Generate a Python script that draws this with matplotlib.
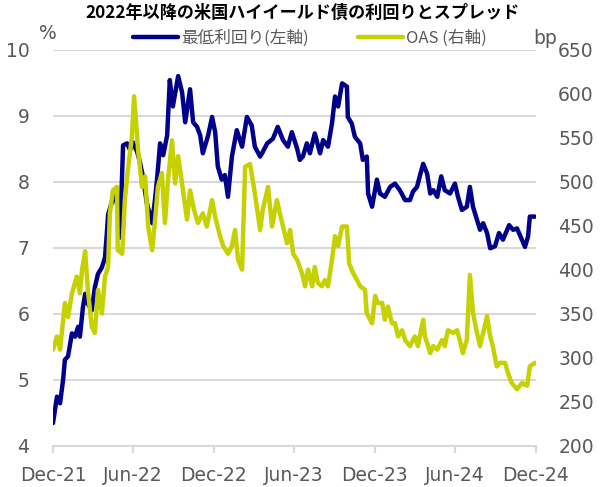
# US high-yield bonds since 2022: yield to worst (left axis) and OAS (right axis)

import pandas as pd
import matplotlib
matplotlib.use('Agg')
import matplotlib.pyplot as plt
import matplotlib.dates as mdates

jp_font = ['Noto Sans CJK JP', 'DejaVu Sans']
grey_text = '#595959'
grid_grey = '#D9D9D9'
blue = '#00008B'
yellow = '#C5D100'

# yield to worst, %
ytw_dates = ['2021-12-31', '2022-01-09', '2022-01-16', '2022-01-23', '2022-01-27', '2022-02-03',
             '2022-02-12', '2022-02-19', '2022-02-26', '2022-03-02', '2022-03-09', '2022-03-14',
             '2022-03-20', '2022-03-29', '2022-04-05', '2022-04-12', '2022-04-21', '2022-04-28',
             '2022-05-02', '2022-05-05', '2022-05-14', '2022-05-21', '2022-05-27', '2022-06-01',
             '2022-06-08', '2022-06-17', '2022-06-24', '2022-06-30', '2022-07-10', '2022-07-16',
             '2022-07-23', '2022-08-01', '2022-08-08', '2022-08-13', '2022-08-19', '2022-08-24',
             '2022-08-31', '2022-09-07', '2022-09-16', '2022-09-22', '2022-09-29', '2022-10-11',
             '2022-10-20', '2022-10-27', '2022-11-07', '2022-11-14', '2022-11-23', '2022-11-30',
             '2022-12-06', '2022-12-18', '2022-12-27', '2023-01-03', '2023-01-09', '2023-01-18',
             '2023-01-25', '2023-02-01', '2023-02-10', '2023-02-21', '2023-03-05', '2023-03-16',
             '2023-03-27', '2023-04-03', '2023-04-15', '2023-04-21', '2023-05-01', '2023-05-14',
             '2023-05-25', '2023-06-06', '2023-06-17', '2023-06-26', '2023-07-08', '2023-07-14',
             '2023-07-21', '2023-07-30', '2023-08-06', '2023-08-17', '2023-08-29', '2023-09-05',
             '2023-09-16', '2023-09-25', '2023-10-02', '2023-10-09', '2023-10-18', '2023-10-29',
             '2023-10-31', '2023-11-09', '2023-11-16', '2023-11-28', '2023-12-04', '2023-12-13',
             '2023-12-16', '2023-12-25', '2024-01-05', '2024-01-12', '2024-01-23', '2024-02-04',
             '2024-02-15', '2024-02-26', '2024-03-09', '2024-03-20', '2024-03-27', '2024-04-05',
             '2024-04-12', '2024-04-19', '2024-04-28', '2024-05-05', '2024-05-12', '2024-05-21',
             '2024-05-30', '2024-06-07', '2024-06-19', '2024-06-30', '2024-07-07', '2024-07-16',
             '2024-07-27', '2024-08-03', '2024-08-10', '2024-08-19', '2024-08-26', '2024-09-02',
             '2024-09-11', '2024-09-18', '2024-09-29', '2024-10-08', '2024-10-17', '2024-10-31',
             '2024-11-09', '2024-11-18', '2024-11-29', '2024-12-06', '2024-12-13', '2024-12-17',
             '2024-12-29']
ytw_values = [4.34, 4.74, 4.64, 5.0, 5.3, 5.35,
              5.7, 5.65, 5.8, 5.65, 6.1, 6.3,
              6.15, 6.05, 6.4, 6.6, 6.7, 6.85,
              7.2, 7.5, 7.7, 7.8, 7.6, 7.15,
              8.55, 8.58, 8.48, 8.6, 8.45, 8.3,
              8.08, 7.67, 7.5, 7.37, 7.7, 8.03,
              8.58, 8.4, 8.7, 9.54, 9.14, 9.6,
              9.35, 8.9, 9.4, 8.9, 8.83, 8.7,
              8.43, 8.7, 8.98, 8.75, 8.23, 8.03,
              8.1, 7.77, 8.38, 8.78, 8.53, 8.98,
              8.85, 8.53, 8.38, 8.45, 8.58, 8.65,
              8.83, 8.63, 8.53, 8.75, 8.5, 8.33,
              8.38, 8.58, 8.43, 8.73, 8.43, 8.63,
              8.53, 8.88, 9.29, 9.14, 9.49, 9.44,
              8.98, 8.88, 8.68, 8.58, 8.33, 8.38,
              7.82, 7.62, 8.03, 7.82, 7.77, 7.92,
              7.97, 7.87, 7.72, 7.72, 7.85, 7.92,
              8.1, 8.27, 8.12, 7.82, 7.87, 7.77,
              8.08, 7.87, 7.82, 7.97, 7.77, 7.57,
              7.62, 7.92, 7.62, 7.42, 7.27, 7.37,
              7.22, 6.99, 7.02, 7.22, 7.12, 7.34,
              7.27, 7.29, 7.12, 7.01, 7.17, 7.47,
              7.47]

# option adjusted spread, bp
oas_dates = ['2021-12-31', '2022-01-09', '2022-01-16', '2022-01-23', '2022-01-27', '2022-02-03',
             '2022-02-12', '2022-02-23', '2022-03-02', '2022-03-07', '2022-03-14', '2022-03-20',
             '2022-03-29', '2022-04-05', '2022-04-12', '2022-04-21', '2022-04-28', '2022-05-05',
             '2022-05-09', '2022-05-16', '2022-05-25', '2022-05-27', '2022-06-06', '2022-06-12',
             '2022-06-19', '2022-06-28', '2022-07-03', '2022-07-10', '2022-07-12', '2022-07-21',
             '2022-07-28', '2022-08-04', '2022-08-13', '2022-08-19', '2022-08-26', '2022-09-04',
             '2022-09-11', '2022-09-18', '2022-09-27', '2022-10-04', '2022-10-11', '2022-10-22',
             '2022-10-31', '2022-11-07', '2022-11-16', '2022-11-25', '2022-12-06', '2022-12-15',
             '2022-12-27', '2023-01-03', '2023-01-14', '2023-01-21', '2023-02-01', '2023-02-10',
             '2023-02-17', '2023-02-24', '2023-03-05', '2023-03-12', '2023-03-23', '2023-04-03',
             '2023-04-15', '2023-04-21', '2023-05-03', '2023-05-12', '2023-05-23', '2023-06-04',
             '2023-06-15', '2023-06-22', '2023-06-29', '2023-07-08', '2023-07-19', '2023-07-26',
             '2023-08-02', '2023-08-11', '2023-08-17', '2023-08-24', '2023-09-02', '2023-09-09',
             '2023-09-16', '2023-09-25', '2023-10-02', '2023-10-09', '2023-10-18', '2023-10-29',
             '2023-11-03', '2023-11-12', '2023-11-21', '2023-11-28', '2023-12-09', '2023-12-13',
             '2023-12-25', '2024-01-01', '2024-01-07', '2024-01-17', '2024-01-23', '2024-01-30',
             '2024-02-08', '2024-02-15', '2024-02-22', '2024-03-02', '2024-03-09', '2024-03-20',
             '2024-03-31', '2024-04-07', '2024-04-19', '2024-04-23', '2024-05-05', '2024-05-12',
             '2024-05-21', '2024-06-01', '2024-06-07', '2024-06-14', '2024-06-26', '2024-07-05',
             '2024-07-11', '2024-07-18', '2024-07-27', '2024-08-03', '2024-08-10', '2024-08-19',
             '2024-08-26', '2024-09-02', '2024-09-11', '2024-09-18', '2024-09-24', '2024-10-03',
             '2024-10-10', '2024-10-22', '2024-10-28', '2024-11-06', '2024-11-18', '2024-11-29',
             '2024-12-11', '2024-12-17', '2024-12-29']
oas_values = [309, 324, 309, 343, 362, 346,
              373, 392, 373, 400, 421, 377,
              335, 328, 377, 350, 392, 403,
              464, 490, 494, 422, 418, 479,
              514, 551, 597, 551, 536, 494,
              506, 449, 422, 453, 494, 510,
              453, 502, 547, 498, 529, 490,
              457, 490, 468, 453, 464, 449,
              479, 460, 438, 427, 418, 427,
              445, 411, 400, 517, 520, 487,
              445, 468, 494, 449, 479, 453,
              430, 445, 418, 411, 396, 381,
              400, 381, 403, 385, 381, 388,
              381, 411, 438, 427, 449, 449,
              407, 396, 388, 381, 377, 350,
              339, 370, 362, 362, 343, 358,
              339, 339, 324, 331, 320, 313,
              324, 313, 343, 324, 305, 313,
              309, 320, 313, 331, 328, 331,
              320, 305, 320, 394, 351, 328,
              313, 328, 347, 324, 313, 290,
              294, 294, 283, 271, 264, 271,
              268, 290, 294]

x_ticks = ['2021-12-31', '2022-06-30', '2022-12-31', '2023-06-30',
           '2023-12-31', '2024-06-30', '2024-12-31']
left_ticks = [4, 5, 6, 7, 8, 9, 10]
right_ticks = [200, 250, 300, 350, 400, 450, 500, 550, 600, 650]

fig = plt.figure(figsize=(6.02, 4.87), dpi=100)
ax = fig.add_axes([53 / 602, 1 - 445.5 / 487, (536 - 53) / 602, (445.5 - 49.7) / 487])
ax2 = ax.twinx()

ax.plot(pd.to_datetime(ytw_dates), ytw_values, color=blue, lw=3.2,
        solid_joinstyle='round', solid_capstyle='round', label='最低利回り(左軸)')
ax2.plot(pd.to_datetime(oas_dates), oas_values, color=yellow, lw=3.2,
         solid_joinstyle='round', solid_capstyle='round', label='OAS (右軸)')

xt = pd.to_datetime(x_ticks)
ax.set_xlim(xt[0], xt[-1])
ax.set_xticks(xt)
ax.xaxis.set_major_formatter(mdates.DateFormatter('%b-%y'))

ax.set_ylim(4, 10)
ax.set_yticks(left_ticks)
ax2.set_ylim(200, 650)
ax2.set_yticks(right_ticks)

for y in left_ticks[1:]:
    ax.axhline(y, color=grid_grey, lw=1.5, zorder=0)

for a in (ax, ax2):
    for s in ('top', 'left', 'right'):
        a.spines[s].set_visible(False)
    a.spines['bottom'].set_color(grid_grey)
    a.spines['bottom'].set_linewidth(1.5)

ax.tick_params(axis='x', direction='out', length=5, width=1.5, color=grid_grey,
               labelsize=13.5, labelcolor=grey_text, pad=10)
ax.tick_params(axis='y', length=0, labelsize=13.5, labelcolor=grey_text, pad=17)
ax2.tick_params(axis='y', length=0, labelsize=13.5, labelcolor=grey_text, pad=16)

fig.text(48 / 602, 1 - 33 / 487, '%', ha='center', va='center', fontsize=13.5, color=grey_text)
fig.text(545 / 602, 1 - 38 / 487, 'bp', ha='center', va='center', fontsize=13.5, color=grey_text)

fig.text(303 / 602, 1 - 13 / 487, '2022年以降の米国ハイイールド債の利回りとスプレッド',
         ha='center', va='center', fontsize=12.3, fontweight='bold', family=jp_font)

h1, l1 = ax.get_legend_handles_labels()
h2, l2 = ax2.get_legend_handles_labels()
leg = fig.legend(h1 + h2, l1 + l2, loc='center', bbox_to_anchor=(310 / 602, 1 - 38 / 487),
                 ncol=2, frameon=False, handlelength=2.7, handletextpad=0.15, columnspacing=3.0,
                 prop={'family': jp_font, 'size': 12}, borderpad=0)
for t in leg.get_texts():
    t.set_color(grey_text)

fig.savefig('out.png', dpi=100)
